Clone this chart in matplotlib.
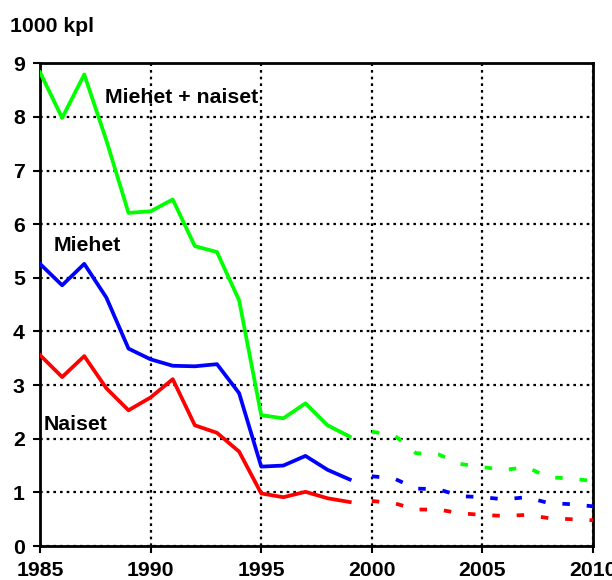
import matplotlib.pyplot as plt

plt.rcParams['font.family'] = ['Liberation Sans', 'DejaVu Sans']
plt.rcParams['font.weight'] = 'bold'

# toteutunut 1985-1999
years = list(range(1985, 2000))
total = [8.83, 7.98, 8.79, 7.56, 6.21, 6.24, 6.46, 5.59, 5.48, 4.58, 2.44, 2.38, 2.66, 2.25, 2.04]
men = [5.26, 4.86, 5.26, 4.63, 3.68, 3.48, 3.36, 3.35, 3.39, 2.85, 1.48, 1.50, 1.68, 1.42, 1.24]
women = [3.56, 3.15, 3.54, 2.94, 2.53, 2.77, 3.11, 2.25, 2.11, 1.76, 0.98, 0.91, 1.01, 0.89, 0.82]

# ennuste 2000-2010
years_f = list(range(2000, 2011))
total_f = [2.13, 2.07, 1.73, 1.71, 1.53, 1.47, 1.42, 1.47, 1.28, 1.26, 1.21]
men_f = [1.30, 1.26, 1.07, 1.06, 0.93, 0.91, 0.87, 0.91, 0.80, 0.78, 0.74]
women_f = [0.84, 0.80, 0.68, 0.68, 0.61, 0.58, 0.56, 0.58, 0.52, 0.50, 0.48]

green = '#00ff00'
blue = '#0000ff'
red = '#ff0000'
fs = 15.3

fig = plt.figure(figsize=(6.12, 5.8), dpi=100)
ax = fig.add_axes([0.0654, 0.0586, 0.9036, 0.8324])

lw = 2.7
dash = (0, (2.0, 4.5))
ax.plot(years, total, color=green, lw=lw, zorder=3)
ax.plot(years, men, color=blue, lw=lw, zorder=3)
ax.plot(years, women, color=red, lw=lw, zorder=3)
ax.plot(years_f, total_f, color=green, lw=lw, linestyle=dash, zorder=3)
ax.plot(years_f, men_f, color=blue, lw=lw, linestyle=dash, zorder=3)
ax.plot(years_f, women_f, color=red, lw=lw, linestyle=dash, zorder=3)

ax.set_xlim(1985, 2010)
ax.set_ylim(0, 9)
ax.set_xticks([1985, 1990, 1995, 2000, 2005, 2010])
ax.set_yticks(range(0, 10))
ax.grid(True, color='black', linestyle=(0, (1.2, 1.8)), linewidth=1.6)

for s in ax.spines.values():
    s.set_linewidth(2)
    s.set_color('black')
ax.tick_params(direction='out', length=5, width=1.5, labelsize=fs, pad=6)
for lab in ax.get_xticklabels() + ax.get_yticklabels():
    lab.set_fontweight('bold')

ax.text(1987.93, 8.36, 'Miehet + naiset', fontsize=fs, fontweight='bold', va='center', ha='left')
ax.text(1985.63, 5.6, 'Miehet', fontsize=fs, fontweight='bold', va='center', ha='left')
ax.text(1985.15, 2.27, 'Naiset', fontsize=fs, fontweight='bold', va='center', ha='left')

fig.text(10 / 612, 1 - 27 / 580, '1000 kpl', fontsize=fs, fontweight='bold', va='center', ha='left')

fig.savefig('out.png', dpi=100)
